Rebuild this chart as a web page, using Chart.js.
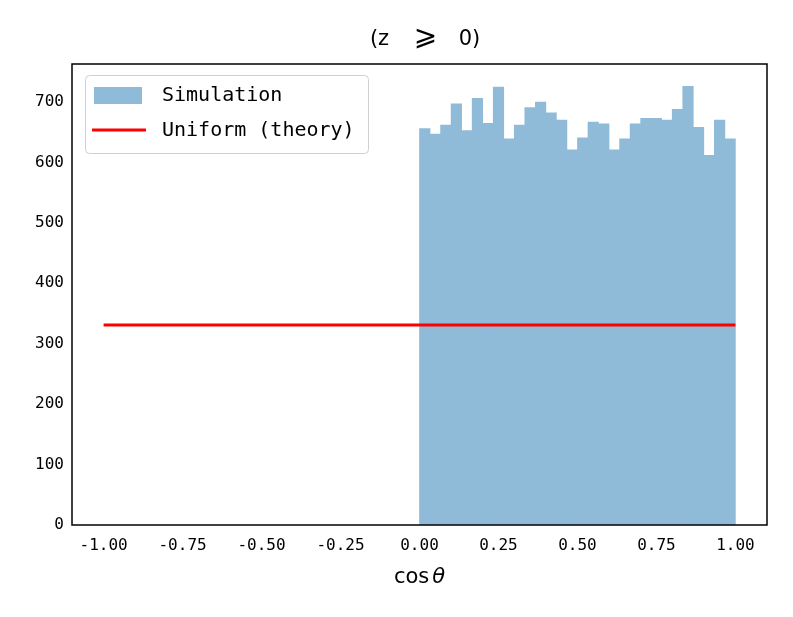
<!DOCTYPE html>
<html>
<head>
<meta charset="utf-8">
<script src="https://cdn.jsdelivr.net/npm/chart.js@4"></script>
<style>
  body { margin: 0; background: #fff; }
  #wrap { width: 793px; height: 617px; }
</style>
</head>
<body>
<div id="wrap"><canvas id="histChart" width="793" height="617"></canvas></div>
<script>
// histogram of cos(theta) for z >= 0, 30 bins on [0, 1]
var binEdgesStart = 0;
var binEdgesEnd = 1;
var binCounts = [656, 647, 662, 697, 653, 706, 665, 725, 639, 662,
                 691, 700, 682, 670, 621, 641, 667, 664, 621, 639,
                 664, 673, 673, 670, 688, 726, 658, 612, 670, 639];
var theoryX = [-1, 1];
var theoryY = [331, 331];
var xTicks = [-1, -0.75, -0.5, -0.25, 0, 0.25, 0.5, 0.75, 1];
var yTicks = [0, 100, 200, 300, 400, 500, 600, 700];
var seriesNames = ['Simulation', 'Uniform (theory)'];

var monoFont = '"DejaVu Sans Mono", "Liberation Mono", monospace';
var sansFont = '"DejaVu Sans", sans-serif';

var binWidth = (binEdgesEnd - binEdgesStart) / binCounts.length;
var histPoints = binCounts.map(function(c, i) {
  return { x: binEdgesStart + binWidth * (i + 0.5), y: c };
});
var linePoints = theoryX.map(function(x, i) { return { x: x, y: theoryY[i] }; });

// draws the frame, title, x label and the boxed legend
var decorPlugin = {
  id: 'decor',
  afterDraw: function(chart) {
    var ctx = chart.ctx;
    var a = chart.chartArea;
    var mid = (a.left + a.right) / 2;
    ctx.save();
    ctx.strokeStyle = '#000';
    ctx.lineWidth = 1.5;
    ctx.strokeRect(a.left, a.top, a.right - a.left, a.bottom - a.top);

    // title, spread out like the wide CJK font in the original
    ctx.fillStyle = '#000';
    ctx.textAlign = 'center';
    ctx.textBaseline = 'middle';
    ctx.font = '21px ' + sansFont;
    ctx.fillText('(z', mid - 40, 40);
    ctx.fillText('0)', mid + 50, 40);
    ctx.font = '28px ' + sansFont;
    ctx.fillText('\u2A7E', mid + 6, 38);

    // x axis label: cos + italic theta
    ctx.textAlign = 'left';
    ctx.font = '21px ' + sansFont;
    var w1 = ctx.measureText('cos').width;
    ctx.font = 'italic 21px ' + sansFont;
    var w2 = ctx.measureText('\u03B8').width;
    var cx = mid - (w1 + 3 + w2) / 2;
    ctx.font = '21px ' + sansFont;
    ctx.fillText('cos', cx, 578);
    ctx.font = 'italic 21px ' + sansFont;
    ctx.fillText('\u03B8', cx + w1 + 3, 578);

    // legend
    var lx = 85, ly = 75, lw = 283, lh = 78;
    ctx.beginPath();
    ctx.roundRect(lx + 0.5, ly + 0.5, lw, lh, 4);
    ctx.fillStyle = 'rgba(255,255,255,0.8)';
    ctx.fill();
    ctx.lineWidth = 1;
    ctx.strokeStyle = '#d0d0d0';
    ctx.stroke();

    ctx.fillStyle = chart.data.datasets[0].backgroundColor;
    ctx.fillRect(94, 87, 48, 17);
    ctx.strokeStyle = chart.data.datasets[1].borderColor;
    ctx.lineWidth = 3;
    ctx.beginPath();
    ctx.moveTo(92, 130);
    ctx.lineTo(146, 130);
    ctx.stroke();

    ctx.fillStyle = '#000';
    ctx.font = '20px ' + monoFont;
    ctx.fillText(chart.data.datasets[0].label, 162, 96);
    ctx.fillText(chart.data.datasets[1].label, 162, 131);
    ctx.restore();
  }
};

var ctx = document.getElementById('histChart').getContext('2d');
var histChart = new Chart(ctx, {
  type: 'bar',
  data: {
    datasets: [
      {
        label: seriesNames[0],
        data: histPoints,
        backgroundColor: '#8fbbd9',
        borderWidth: 0,
        barPercentage: 1,
        categoryPercentage: 1,
        order: 2
      },
      {
        type: 'line',
        label: seriesNames[1],
        data: linePoints,
        borderColor: '#ff0000',
        borderWidth: 3,
        pointRadius: 0,
        fill: false,
        order: 1
      }
    ]
  },
  options: {
    responsive: false,
    animation: false,
    layout: { padding: { top: 64, right: 26, left: 0, bottom: 0 } },
    plugins: {
      legend: { display: false },
      title: { display: false },
      tooltip: { enabled: false }
    },
    scales: {
      x: {
        type: 'linear',
        min: -1.1,
        max: 1.1,
        offset: false,
        grid: { display: false, drawTicks: false },
        border: { display: false },
        afterBuildTicks: function(axis) {
          axis.ticks = xTicks.map(function(v) { return { value: v }; });
        },
        afterFit: function(axis) { axis.height = 92; },
        ticks: {
          color: '#000',
          font: { family: monoFont, size: 16 },
          padding: 11,
          maxRotation: 0,
          callback: function(v) { return v.toFixed(2); }
        }
      },
      y: {
        min: 0,
        max: 763,
        grid: { display: false, drawTicks: false },
        border: { display: false },
        afterBuildTicks: function(axis) {
          axis.ticks = yTicks.map(function(v) { return { value: v }; });
        },
        afterFit: function(axis) { axis.width = 72; },
        ticks: {
          color: '#000',
          font: { family: monoFont, size: 16 },
          padding: 8
        }
      }
    }
  },
  plugins: [decorPlugin]
});
</script>
</body>
</html>
